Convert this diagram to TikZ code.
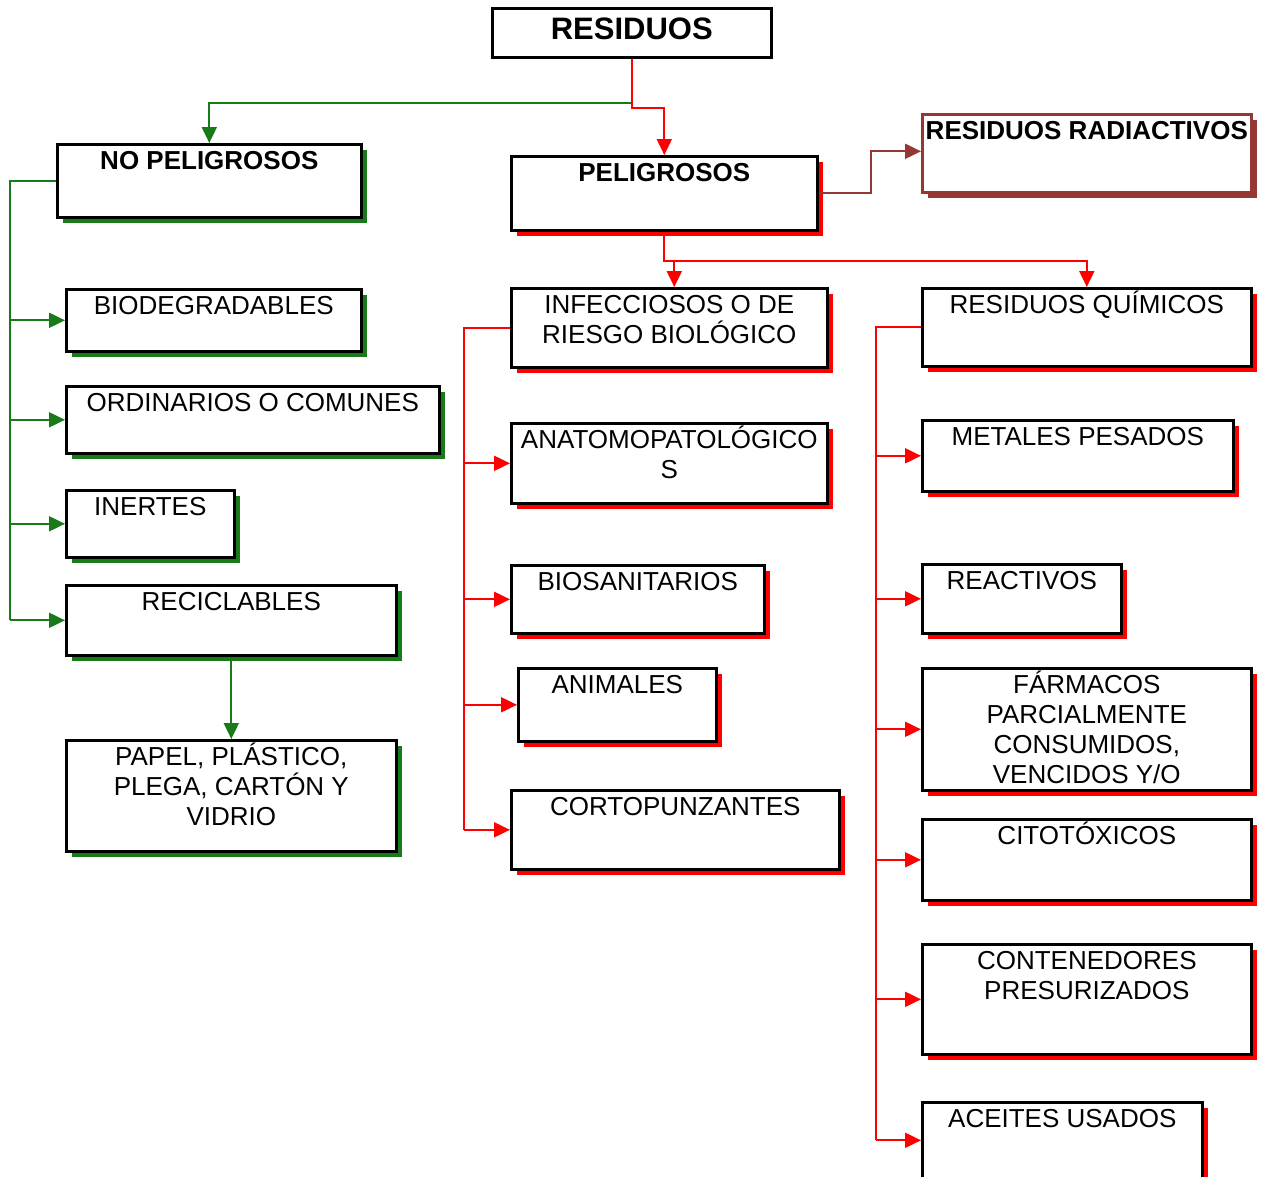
\documentclass[tikz,border=0pt]{standalone}
\usepackage{fontspec}
\setmainfont{Liberation Sans}
\usetikzlibrary{arrows.meta,shadows}
\definecolor{ngreen}{RGB}{25,122,25}
\definecolor{nred}{RGB}{255,0,0}
\definecolor{dred}{RGB}{149,55,53}
% struts fixing the first baseline below the top of each box
\newcommand\topstrut{\rule{0pt}{26.5pt}}
\newcommand\headstrut{\rule{0pt}{32pt}}

\begin{document}
\begin{tikzpicture}[x=1pt,y=-1pt,
  plainbox/.style={draw=black, line width=2.6pt, fill=white, rectangle,
    inner sep=0pt, anchor=north west},
  box/.style={plainbox, drop shadow={shadow xshift=6pt, shadow yshift=-6pt,
    opacity=1, fill=#1}},
  sz/.style 2 args={minimum width=#1pt, minimum height=#2pt},
  txt/.style={anchor=north, inner sep=0pt, align=center,
    font=\fontsize{26}{30}\selectfont},
  btxt/.style={txt, font=\fontsize{26}{30}\selectfont\bfseries},
  tip/.style={-{Triangle[length=16pt,width=15pt]}},
  gline/.style={draw=ngreen, line width=2pt},
  rline/.style={draw=nred, line width=2pt},
  dline/.style={draw=dred, line width=2pt},
]
\fill[white] (0,0) rectangle (1263,1176);
\useasboundingbox (0,0) rectangle (1263,1176);

% ---- boxes ----
\node[plainbox, sz={279}{49}] (res) at (491,7) {};
\node[box=ngreen, sz={304}{73}] (nop) at (56,143) {};
\node[box=nred, sz={306}{74}] (pel) at (510,155) {};
\node[box=dred, draw=dred, sz={329}{78}] (rad) at (921,113) {};

\node[box=ngreen, sz={295}{62}] (bio) at (65,288) {};
\node[box=ngreen, sz={373}{67}] (ord) at (65,385) {};
\node[box=ngreen, sz={168}{67}] (ine) at (65,489) {};
\node[box=ngreen, sz={330}{70}] (rec) at (65,584) {};
\node[box=ngreen, sz={330}{111}] (pap) at (65,739) {};

\node[box=nred, sz={316}{79}] (inf) at (510,287) {};
\node[box=nred, sz={316}{80}] (ana) at (510,422) {};
\node[box=nred, sz={253}{68}] (bsa) at (510,564) {};
\node[box=nred, sz={198}{73}] (ani) at (517,667) {};
\node[box=nred, sz={328}{79}] (cor) at (510,789) {};

\node[box=nred, sz={329}{78}] (qui) at (921,287) {};
\node[box=nred, sz={311}{71}] (met) at (921,419) {};
\node[box=nred, sz={199}{69}] (rea) at (921,563) {};
\node[box=nred, sz={329}{122}] (far) at (921,667) {};
\node[box=nred, sz={329}{81}] (cit) at (921,818) {};
\node[box=nred, sz={329}{110}] (con) at (921,943) {};
\node[box=nred, sz={280}{76}] (ace) at (921,1101) {};

% ---- texts ----
\node[txt, font=\fontsize{31}{35}\selectfont\bfseries] (tres) at (res.north) {\headstrut RESIDUOS};
\node[btxt] (tnop) at (nop.north) {\topstrut NO PELIGROSOS};
\node[btxt] (tpel) at (pel.north) {\topstrut PELIGROSOS};
\node[btxt] (trad) at (rad.north) {\topstrut RESIDUOS RADIACTIVOS};

\node[txt] (tbio) at (bio.north) {\topstrut BIODEGRADABLES};
\node[txt] (tord) at (ord.north) {\topstrut ORDINARIOS O COMUNES};
\node[txt] (tine) at (ine.north) {\topstrut INERTES};
\node[txt] (trec) at (rec.north) {\topstrut RECICLABLES};
\node[txt] (tpap) at (pap.north) {\topstrut PAPEL, PLÁSTICO,\\PLEGA, CARTÓN Y\\VIDRIO};

\node[txt] (tinf) at (inf.north) {\topstrut INFECCIOSOS O DE\\RIESGO BIOLÓGICO};
\node[txt] (tana) at (ana.north) {\topstrut ANATOMOPATOLÓGICO\\S};
\node[txt] (tbsa) at (bsa.north) {\topstrut BIOSANITARIOS};
\node[txt] (tani) at (ani.north) {\topstrut ANIMALES};
\node[txt] (tcor) at (cor.north) {\topstrut CORTOPUNZANTES};

\node[txt] (tqui) at (qui.north) {\topstrut RESIDUOS QUÍMICOS};
\node[txt] (tmet) at (met.north) {\topstrut METALES PESADOS};
\node[txt] (trea) at (rea.north) {\topstrut REACTIVOS};
\node[txt] (tfar) at (far.north) {\topstrut FÁRMACOS\\PARCIALMENTE\\CONSUMIDOS,\\VENCIDOS Y/O};
\node[txt] (tcit) at (cit.north) {\topstrut CITOTÓXICOS};
\node[txt] (tcon) at (con.north) {\topstrut CONTENEDORES\\PRESURIZADOS};
\node[txt] (tace) at (ace.north) {\topstrut ACEITES USADOS};

% ---- bus positions ----
\coordinate (gb) at (10,0);
\coordinate (rb) at (464,0);
\coordinate (qb) at (876,0);
\coordinate (hub) at ([yshift=-29pt]pel.south);

% ---- top split ----
\draw[gline, tip] (res.south) -- ++(0,44) -| (nop.north);
\draw[rline, tip] (res.south) -- ++(0,49) -| (pel.north);
\draw[dline, tip] (pel.east) -- ++(52,0) |- ([yshift=2pt]rad.west);

% ---- non-hazardous branch ----
\draw[gline] (nop.west) -| (gb |- rec.west);
\foreach \n in {bio,ord,ine,rec}
  \draw[gline, tip] (gb |- \n.west) -- (\n.west);
\draw[gline, tip] (rec.south) -- (pap.north);

% ---- hazardous branch ----
\draw[rline, tip] (pel.south) -- (hub) -| (qui.north);
\draw[rline, tip] ([xshift=5pt]inf.north |- hub) -- ([xshift=5pt]inf.north);

\draw[rline] (inf.west) -| (rb |- cor.west);
\foreach \n in {ana,bsa,ani,cor}
  \draw[rline, tip] (rb |- \n.west) -- (\n.west);

\draw[rline] (qui.west) -| (qb |- ace.west);
\foreach \n in {met,rea,far,cit,con,ace}
  \draw[rline, tip] (qb |- \n.west) -- (\n.west);
\end{tikzpicture}
\end{document}
